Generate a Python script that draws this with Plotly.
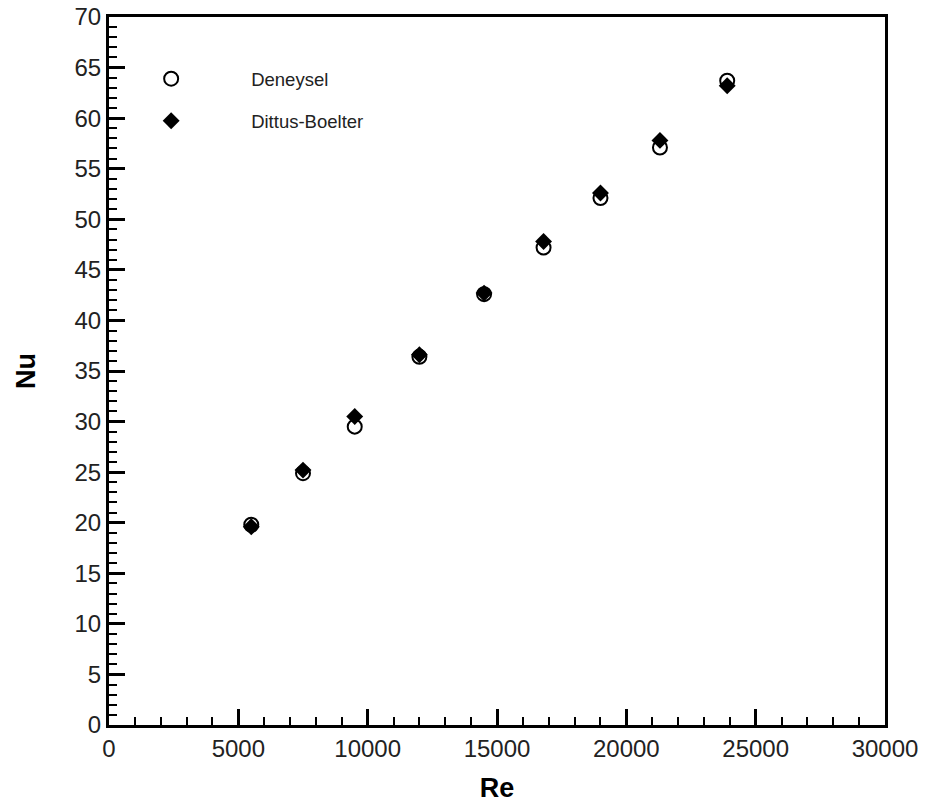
import plotly.graph_objects as go

# Reynolds numbers of the measurement points
re_values = [5500, 7500, 9500, 12000, 14500, 16800, 19000, 21300, 23900]
# Measured Nusselt numbers
nu_deneysel = [19.8, 24.9, 29.5, 36.4, 42.6, 47.2, 52.1, 57.1, 63.7]
# Nusselt numbers from the Dittus-Boelter correlation
nu_dittus = [19.6, 25.2, 30.5, 36.6, 42.7, 47.8, 52.6, 57.8, 63.2]

x_ticks = [0, 5000, 10000, 15000, 20000, 25000, 30000]
x_labels = ["0", "5000", "10000", "15000", "20000", "25000", "30000"]
y_ticks = list(range(0, 75, 5))
y_labels = [str(v) for v in y_ticks]

FONT = "Liberation Sans, Arial, sans-serif"

fig = go.Figure()
fig.add_trace(go.Scatter(
    x=re_values, y=nu_deneysel, mode="markers", name="Deneysel",
    legendgroup="a",
    marker=dict(symbol="circle-open", size=14, color="black",
                line=dict(width=2, color="black")),
))
fig.add_trace(go.Scatter(
    x=re_values, y=nu_dittus, mode="markers", name="Dittus-Boelter",
    legendgroup="b",
    marker=dict(symbol="diamond", size=13, color="black"),
))

axis_common = dict(
    showline=True, linewidth=3, linecolor="black", mirror=True,
    ticks="inside", ticklen=16, tickwidth=2.5, tickcolor="black",
    showgrid=False, zeroline=False, automargin=False,
    tickfont=dict(family=FONT, size=24, color="#222"),
)

fig.update_xaxes(
    range=[0, 30000], tickvals=x_ticks, ticktext=x_labels,
    minor=dict(dtick=1000, ticks="inside", ticklen=8, tickwidth=1.5, tickcolor="black"),
    title=dict(text="<b>Re</b>", font=dict(family=FONT, size=27, color="black"), standoff=18),
    **axis_common,
)
fig.update_yaxes(
    range=[0, 70], tickvals=y_ticks, ticktext=y_labels,
    minor=dict(dtick=1, ticks="inside", ticklen=8, tickwidth=1.5, tickcolor="black"),
    title=dict(text="<b>Nu</b>", font=dict(family=FONT, size=27, color="black"), standoff=32),
    **axis_common,
)

fig.update_layout(
    width=925, height=803,
    margin=dict(l=109, r=40, t=17, b=78),
    plot_bgcolor="white", paper_bgcolor="white",
    showlegend=True,
    legend=dict(
        x=-0.023, y=0.939, xanchor="left", yanchor="top",
        bgcolor="rgba(0,0,0,0)", borderwidth=0,
        font=dict(family=FONT, size=18.5, color="#222"),
        itemwidth=150, tracegroupgap=15,
    ),
)

fig.write_html("out.html")
